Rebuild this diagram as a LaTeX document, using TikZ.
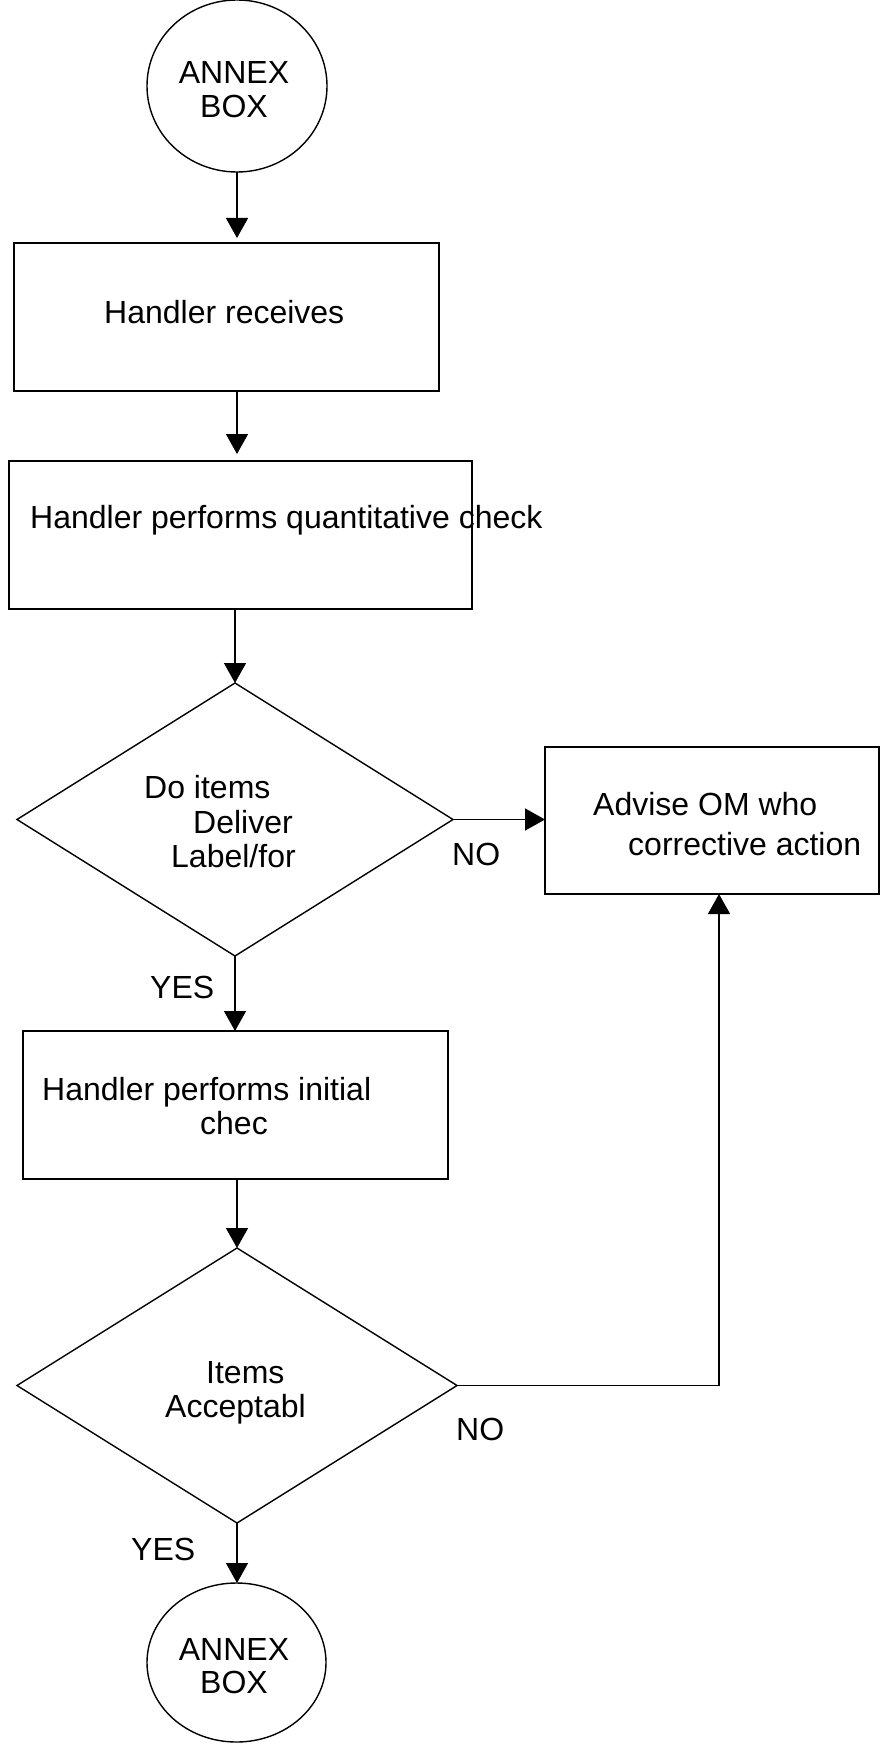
\documentclass[tikz,border=0pt]{standalone}
\usepackage{fontspec}
\setmainfont{Liberation Sans}
\usetikzlibrary{shapes.geometric,arrows.meta}
\begin{document}
\begin{tikzpicture}[x=1pt,y=-1pt,
  every node/.style={font=\fontsize{32}{36}\selectfont},
  shp/.style={draw,line width=1.4pt,inner sep=0pt,outer sep=0pt},
  boxnode/.style={shp,rectangle},
  dnode/.style={shp,diamond},
  cnode/.style={shp,ellipse},
  lbl/.style={anchor=base west,inner sep=0pt},
  conn/.style={line width=1.4pt,-{Triangle[width=22pt,length=20pt]}}]
\useasboundingbox (0,0) rectangle (880,1744);
% shapes
\node[cnode,minimum width=180pt,minimum height=172pt] (c1) at (237,86) {};
\node[boxnode,minimum width=425pt,minimum height=148pt] (b1) at (226.5,317) {};
\node[boxnode,minimum width=463pt,minimum height=148pt] (b2) at (240.5,535) {};
\node[dnode,minimum width=436pt,minimum height=273pt] (d1) at (235,819.5) {};
\node[boxnode,minimum width=334pt,minimum height=147pt] (b4) at (712,820.5) {};
\node[boxnode,minimum width=425pt,minimum height=148pt] (b3) at (235.5,1105) {};
\node[dnode,minimum width=440pt,minimum height=275pt] (d2) at (237,1385.5) {};
\node[cnode,minimum width=179pt,minimum height=159pt] (c2) at (236.5,1662.5) {};
% texts
\node[anchor=base,inner sep=0pt] (t1a) at (234,84) {ANNEX};
\node[anchor=base,inner sep=0pt] (t1b) at (234,118) {BOX};
\node[lbl] (t2) at (104,323) {Handler receives};
\node[lbl] (t3) at (30,528) {Handler performs quantitative check};
\node[lbl] (t4a) at (144,798) {Do items};
\node[lbl] (t4b) at (193,833) {Deliver};
\node[lbl] (t4c) at (171,867) {Label/for};
\node[lbl] (no1) at (452,865) {NO};
\node[lbl] (t5a) at (593,815) {Advise OM who};
\node[lbl] (t5b) at (628,855) {corrective action};
\node[lbl] (yes1) at (150,998) {YES};
\node[lbl] (t6a) at (42,1100) {Handler performs initial};
\node[lbl] (t6b) at (200,1134) {chec};
\node[lbl] (t7a) at (206,1383) {Items};
\node[lbl] (t7b) at (165,1417) {Acceptabl};
\node[lbl] (no2) at (456,1440) {NO};
\node[lbl] (yes2) at (131,1560) {YES};
\node[anchor=base,inner sep=0pt] (t8a) at (234,1660) {ANNEX};
\node[anchor=base,inner sep=0pt] (t8b) at (234,1693) {BOX};
% connectors
\draw[conn,shorten >=5pt] (c1.south) -- (b1.north -| c1.south);
\draw[conn,shorten >=7pt] (b1.south -| c1.south) -- (b2.north -| c1.south);
\draw[conn] (b2.south -| d1.north) -- (d1.north);
\draw[conn] (d1.east) -- (b4.west |- d1.east);
\draw[conn] (d1.south) -- (b3.north -| d1.south);
\draw[conn] (b3.south -| d2.north) -- (d2.north);
\coordinate (k) at ([xshift=7pt]b4.south);
\draw[conn] (d2.east) -| (k);
\draw[conn] (d2.south) -- (c2.north -| d2.south);
\end{tikzpicture}
\end{document}
